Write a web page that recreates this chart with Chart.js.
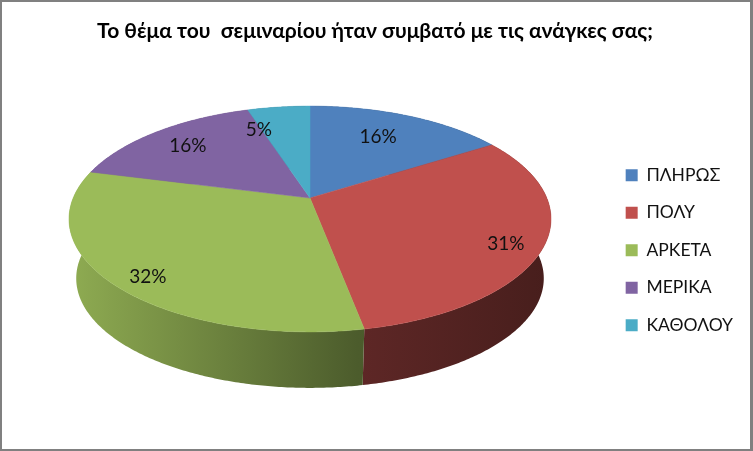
<!DOCTYPE html>
<html><head><meta charset="utf-8">
<script src="https://cdn.jsdelivr.net/npm/chart.js@4"></script>
<style>
html,body{margin:0;padding:0;background:#fff;overflow:hidden}
#frame{position:absolute;left:0;top:0;width:753px;height:451px;box-sizing:border-box;border-style:solid;border-color:#808080;border-width:2px 3px 2px 2px;pointer-events:none}
canvas{display:block}
</style></head><body>
<canvas id="c" width="753" height="451"></canvas>
<div id="frame"></div>
<script>
const titleText = 'Το θέμα του  σεμιναρίου ήταν συμβατό με τις ανάγκες σας;';
const categories = ['ΠΛΗΡΩΣ','ΠΟΛΎ','ΑΡΚΕΤΑ','ΜΕΡΙΚΑ','ΚΑΘΟΛΟΥ'];
const percentValues = [16,31,32,16,5];
const sliceColors = ['#4f81bd','#c0504d','#9bbb59','#8064a2','#4bacc6'];
const labelRadius = [0.70,0.86,0.88,0.77,0.75];
const labelAngleShift = [-1.5,3.5,-3.5,-0.5,-10];

// perspective projection of the flat pie disc
const view = {cx:310, cy:198, a:236.8, b:109, k:0.186, drop:60, floor:0.97};
const shadeStops = [[68,0.92],[357,0.49],[551,0.37]];

function project(r, ang, lower){
  const u = r*Math.cos(ang), v = r*Math.sin(ang), w = 1 - view.k*v;
  const s = lower ? view.floor : 1;
  return [view.cx + s*view.a*u/w, view.cy + (lower?view.drop:0) + s*view.b*v/w];
}
function arcPoints(start, end, lower){
  const n = Math.max(2, Math.ceil((end-start)/0.01)), pts = [];
  for(let i=0;i<=n;i++) pts.push(project(1, start+(end-start)*i/n, lower));
  return pts;
}
function trace(ctx, pts){ pts.forEach((p,i)=> i?ctx.lineTo(p[0],p[1]):ctx.moveTo(p[0],p[1])); }
function shade(hex, f){
  const n = parseInt(hex.slice(1),16);
  return `rgb(${Math.round((n>>16)*f)},${Math.round(((n>>8)&255)*f)},${Math.round((n&255)*f)})`;
}
const perspectivePie = {
  id:'perspectivePie',
  beforeDatasetDraw(chart, args){
    const ctx = chart.ctx, arcs = chart.getDatasetMeta(args.index).data;
    const colors = chart.data.datasets[args.index].backgroundColor;
    ctx.save();
    // side wall
    arcs.forEach((arc,i)=>{
      const g = ctx.createLinearGradient(shadeStops[0][0],0,shadeStops[2][0],0);
      const span = shadeStops[2][0]-shadeStops[0][0];
      shadeStops.forEach(s=> g.addColorStop((s[0]-shadeStops[0][0])/span, shade(colors[i],s[1])));
      ctx.beginPath();
      trace(ctx, arcPoints(arc.startAngle,arc.endAngle,false).concat(arcPoints(arc.startAngle,arc.endAngle,true).reverse()));
      ctx.closePath();
      ctx.fillStyle = g; ctx.fill();
    });
    // top face
    arcs.forEach((arc,i)=>{
      ctx.beginPath();
      trace(ctx, [[view.cx,view.cy]].concat(arcPoints(arc.startAngle,arc.endAngle,false)));
      ctx.closePath();
      ctx.fillStyle = colors[i]; ctx.fill();
      ctx.strokeStyle = colors[i]; ctx.lineWidth = 0.5; ctx.stroke();
    });
    // percentage labels
    ctx.fillStyle = '#111';
    ctx.font = '19px Lato';
    ctx.textAlign = 'center'; ctx.textBaseline = 'middle';
    arcs.forEach((arc,i)=>{
      const mid = (arc.startAngle+arc.endAngle)/2 + labelAngleShift[i]*Math.PI/180;
      const p = project(labelRadius[i], mid, false);
      ctx.fillText(percentValues[i]+'%', p[0], p[1]);
    });
    ctx.restore();
    return false;
  }
};
new Chart(document.getElementById('c'),{
  type:'pie',
  data:{labels:categories,datasets:[{data:percentValues,backgroundColor:sliceColors,borderWidth:0}]},
  options:{
    responsive:false,animation:false,
    layout:{padding:{top:19,right:10,bottom:97,left:7}},
    plugins:{
      tooltip:{enabled:false},
      title:{display:true,text:titleText,color:'#000',font:{family:'Lato',size:21,weight:'bold'},padding:{top:0,bottom:10}},
      legend:{position:'right',align:'end',labels:{color:'#111',boxWidth:12,boxHeight:12,padding:20,font:{family:'Lato',size:17.5}}}
    }
  },
  plugins:[perspectivePie]
});
</script>
</body></html>
